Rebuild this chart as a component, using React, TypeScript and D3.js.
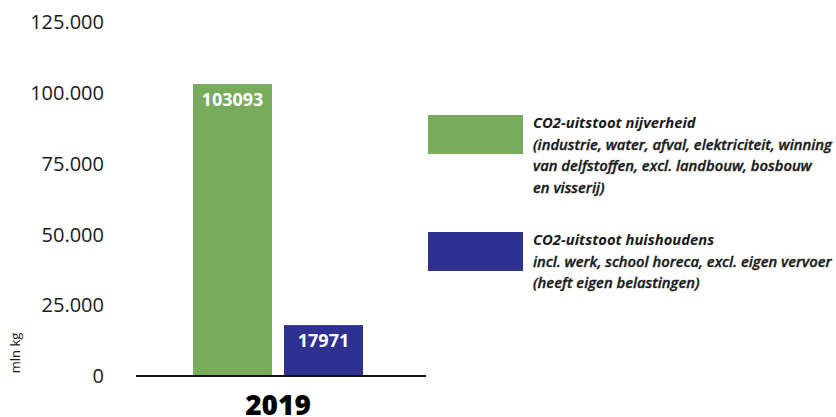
import React from "react";
import * as d3 from "d3";

const categories = ["nijverheid", "huishoudens"];
const values = [103093, 17971];
const colors = ["#79AB5D", "#2E3192"];
const yTicks = [0, 25000, 50000, 75000, 100000, 125000];
const yearLabel = "2019";
const unitLabel = "mln kg";
const legendTitles = ["CO2-uitstoot nijverheid", "CO2-uitstoot huishoudens"];
const legendLines = [
  [
    "(industrie, water, afval, elektriciteit, winning",
    "van delfstoffen, excl. landbouw, bosbouw",
    "en visserij)",
  ],
  ["incl. werk, school horeca, excl. eigen vervoer", "(heeft eigen belastingen)"],
];

const W = 836;
const H = 417;
const FONT = "'Open Sans', 'Noto Sans', sans-serif";

export default function App() {
  const y = d3.scaleLinear().domain([0, 125000]).range([376, 22]);
  const x = d3
    .scaleBand<string>()
    .domain(categories)
    .range([193, 363])
    .paddingInner(12 / 91)
    .paddingOuter(0);
  const fmt = (v: number) => d3.format(",")(v).replace(/,/g, ".");

  const legendTop = [115, 232];

  return (
    <svg
      width={W}
      height={H}
      style={{ position: "absolute", left: 0, top: 0, background: "#fff" }}
      fontFamily={FONT}
    >
      {yTicks.map((t) => (
        <text
          key={t}
          x={104}
          y={y(t)}
          dy="0.36em"
          textAnchor="end"
          fontSize={20}
          fill="#1a1a1a"
        >
          {fmt(t)}
        </text>
      ))}
      <text
        transform={`translate(20,353) rotate(-90)`}
        textAnchor="middle"
        fontSize={13}
        fill="#1a1a1a"
      >
        {unitLabel}
      </text>

      {categories.map((c, i) => {
        const bx = x(c)!;
        const by = y(values[i]);
        return (
          <g key={c}>
            <rect
              x={bx}
              y={by}
              width={x.bandwidth()}
              height={y(0) - by}
              fill={colors[i]}
            />
            <text
              x={bx + x.bandwidth() / 2}
              y={by + 22}
              textAnchor="middle"
              fontSize={18}
              fontWeight={700}
              fill="#fff"
            >
              {values[i]}
            </text>
          </g>
        );
      })}

      <line x1={136} x2={426} y1={y(0)} y2={y(0)} stroke="#111" strokeWidth={2} />
      <text
        x={278}
        y={415}
        textAnchor="middle"
        fontSize={28}
        fontWeight={800}
        fill="#000"
      >
        {yearLabel}
      </text>

      {legendTitles.map((title, i) => (
        <g key={title}>
          <rect x={428} y={legendTop[i]} width={95} height={39} fill={colors[i]} />
          <text
            x={533}
            y={legendTop[i] + 13}
            fontSize={14.8}
            fontWeight={700}
            fontStyle="italic"
            fill="#1a1a1a"
          >
            {title}
          </text>
          {legendLines[i].map((ln, j) => (
            <text
              key={j}
              x={533}
              y={legendTop[i] + 13 + 21.7 * (j + 1)}
              fontSize={14.8}
              fontWeight={600}
              fontStyle="italic"
              fill="#1a1a1a"
              stroke="#1a1a1a"
              strokeWidth={0.35}
            >
              {ln}
            </text>
          ))}
        </g>
      ))}
    </svg>
  );
}
